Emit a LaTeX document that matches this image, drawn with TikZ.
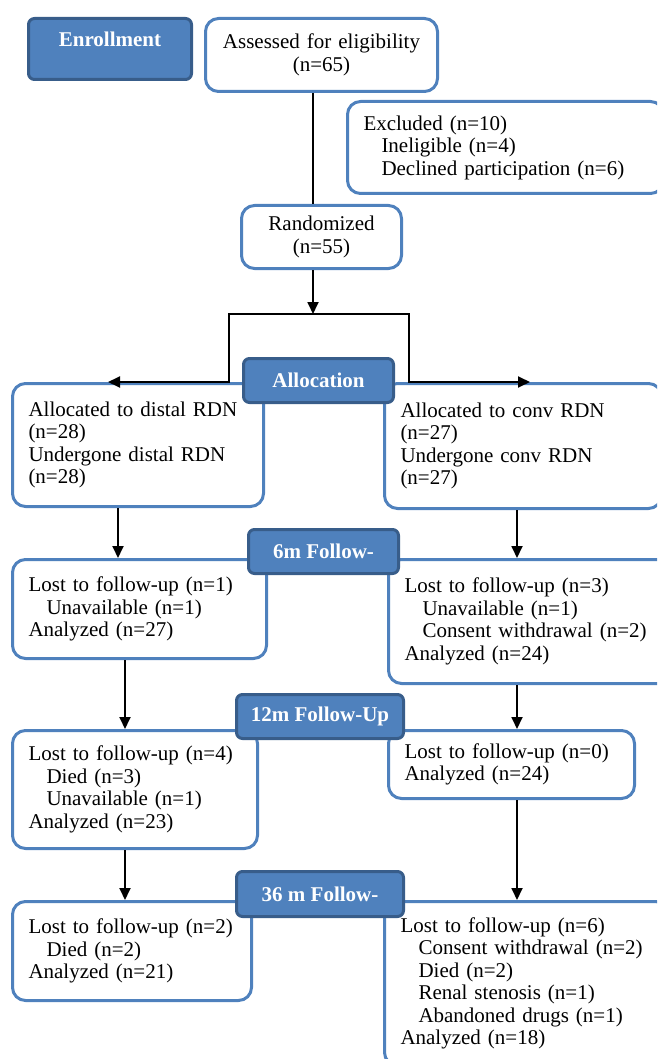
\documentclass[tikz,border=0pt]{standalone}
\usepackage{fontspec}
\setmainfont{Liberation Serif}
\usepackage{tikz}
\usetikzlibrary{arrows.meta}
\definecolor{boxblue}{RGB}{79,129,189}
\definecolor{darkblue}{RGB}{56,93,138}
\newcommand{\subitm}{\hspace*{18pt}}

\begin{document}
\begin{tikzpicture}[x=1pt,y=-1pt]

\tikzstyle{every node}=[font=\fontsize{21}{22.5}\selectfont]
\tikzstyle{box}=[draw=boxblue, line width=3pt, rounded corners=13pt, fill=white, anchor=north west, inner xsep=16pt, inner ysep=4pt, align=left]
\tikzstyle{phase}=[draw=darkblue, fill=boxblue, line width=3pt, rounded corners=6pt, anchor=north west, text=white, font=\fontsize{21}{22.5}\selectfont\bfseries, inner sep=0pt]
\tikzstyle{line}=[line width=1.8pt]
\tikzstyle{arr}=[line width=1.8pt, -{Triangle[length=12pt,width=11pt]}]

\useasboundingbox (0,0) rectangle (657,1059);
\clip (0,0) rectangle (657,1059);

% enrollment
\node [box, align=center, text width=200pt, minimum height=73pt] (assess) at (204,17) {Assessed for eligibility\\(n=65)};
\node [box, text width=284pt, minimum height=92pt] (excl) at (346,100) {Excluded (n=10)\\\subitm Ineligible (n=4)\\\subitm Declined participation (n=6)};
\node [box, align=center, text width=128pt, minimum height=63pt] (rand) at (240,204) {Randomized\\(n=55)};

% allocation
\node [box, text width=219pt, minimum height=123pt] (allocL) at (11,382) {Allocated to distal RDN\\(n=28)\\Undergone distal RDN\\(n=28)};
\node [box, text width=245pt, minimum height=125pt] (allocR) at (383,382) {Allocated to conv RDN\\(n=27)\\Undergone conv RDN\\(n=27)};

% 6m
\node [box, text width=222pt, minimum height=99pt] (fuSixL) at (11,558) {Lost to follow-up (n=1)\\\subitm Unavailable (n=1)\\Analyzed (n=27)};
\node [box, text width=252pt, minimum height=124pt] (fuSixR) at (387,558) {Lost to follow-up (n=3)\\\subitm Unavailable (n=1)\\\subitm Consent withdrawal (n=2)\\Analyzed (n=24)};

% 12m
\node [box, text width=213pt, minimum height=118pt] (fuTwelveL) at (11,729) {Lost to follow-up (n=4)\\\subitm Died (n=3)\\\subitm Unavailable (n=1)\\Analyzed (n=23)};
\node [box, text width=214pt, minimum height=68pt] (fuTwelveR) at (387,729) {Lost to follow-up (n=0)\\Analyzed (n=24)};

% 36m
\node [box, text width=207pt, minimum height=99pt] (fuThirtyL) at (11,900) {Lost to follow-up (n=2)\\\subitm Died (n=2)\\Analyzed (n=21)};
\node [box, text width=252pt, minimum height=164pt] (fuThirtyR) at (383,900) {Lost to follow-up (n=6)\\\subitm Consent withdrawal (n=2)\\\subitm Died (n=2)\\\subitm Renal stenosis (n=1)\\\subitm Abandoned drugs (n=1)\\Analyzed (n=18)};

% connectors
\coordinate (split) at (313,314);
\coordinate (bendL) at (229,382);
\coordinate (bendR) at (409,382);
\coordinate (tipL) at (108,382);
\coordinate (tipR) at (530,382);
\coordinate (colA) at (118,0);
\coordinate (colB) at (125,0);
\coordinate (colR) at (517,0);

\draw [line] (assess.south -| split) -- (rand.north -| split);
\draw [arr] (rand.south -| split) -- (split);
\draw [arr] (split) -| (bendL) -- (tipL);
\draw [arr] (split) -| (bendR) -- (tipR);

\draw [arr] (allocL.south -| colA) -- (fuSixL.north -| colA);
\draw [arr] (fuSixL.south -| colB) -- (fuTwelveL.north -| colB);
\draw [arr] (fuTwelveL.south -| colB) -- (fuThirtyL.north -| colB);

\draw [arr] (allocR.south -| colR) -- (fuSixR.north -| colR);
\draw [arr] (fuSixR.south -| colR) -- (fuTwelveR.north -| colR);
\draw [arr] (fuTwelveR.south -| colR) -- (fuThirtyR.north -| colR);

% phase labels
\node [phase, minimum width=163pt, minimum height=61pt, text height=14pt, text depth=18pt] (enroll) at (27,17) {Enrollment};
\node [phase, minimum width=150pt, minimum height=44pt] (alloc) at (242,357) {Allocation};
\node [phase, minimum width=150pt, minimum height=44pt] (sixm) at (247,528) {6m Follow-};
\node [phase, minimum width=167pt, minimum height=44pt] (twelvem) at (235,693) {12m Follow-Up};
\node [phase, minimum width=167pt, minimum height=45pt] (thirtym) at (235,870) {36 m Follow-};

\end{tikzpicture}
\end{document}
